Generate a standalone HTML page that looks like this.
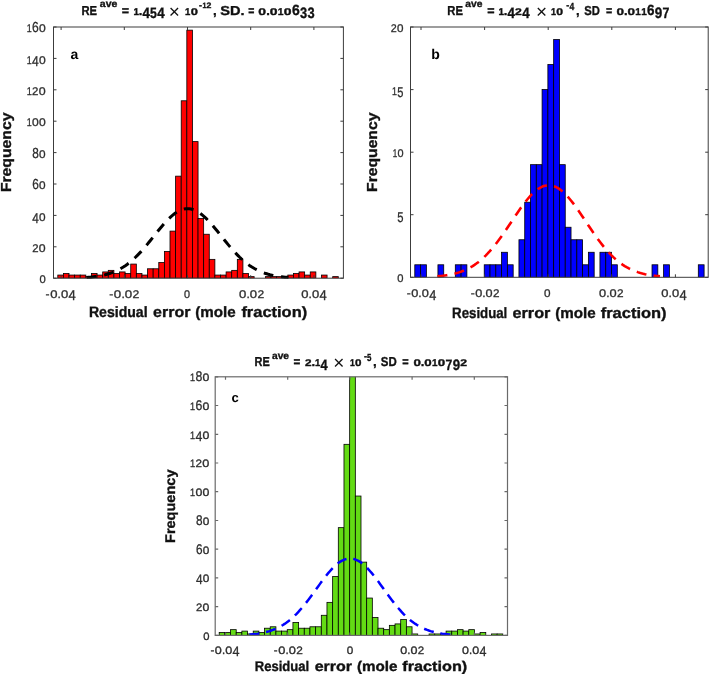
<!DOCTYPE html><html><head><meta charset="utf-8"><title>Residual error histograms</title>
<style>html,body{margin:0;padding:0;background:#fff}svg{display:block;text-rendering:geometricPrecision}text{font-family:'Liberation Sans', sans-serif}</style></head><body>
<svg width="709" height="675" viewBox="0 0 709 675">
<rect width="709" height="675" fill="#fff"/>
<clipPath id="ca"><rect x="53.5" y="27.0" width="289.9" height="251.2"/></clipPath>
<g fill="#ff0000" stroke="#000" stroke-width="0.8" clip-path="url(#ca)">
<rect x="57.80" y="275.06" width="5.61" height="3.14"/>
<rect x="63.41" y="273.49" width="5.61" height="4.71"/>
<rect x="69.02" y="275.06" width="5.61" height="3.14"/>
<rect x="74.63" y="275.06" width="5.61" height="3.14"/>
<rect x="80.24" y="275.06" width="5.61" height="3.14"/>
<rect x="85.85" y="276.63" width="5.61" height="1.57"/>
<rect x="91.46" y="273.49" width="5.61" height="4.71"/>
<rect x="97.07" y="275.06" width="5.61" height="3.14"/>
<rect x="102.68" y="271.92" width="5.61" height="6.28"/>
<rect x="108.29" y="270.35" width="5.61" height="7.85"/>
<rect x="113.90" y="273.49" width="5.61" height="4.71"/>
<rect x="119.51" y="271.92" width="5.61" height="6.28"/>
<rect x="125.12" y="273.49" width="5.61" height="4.71"/>
<rect x="130.73" y="264.07" width="5.61" height="14.13"/>
<rect x="136.34" y="273.49" width="5.61" height="4.71"/>
<rect x="141.95" y="275.06" width="5.61" height="3.14"/>
<rect x="147.56" y="268.78" width="5.61" height="9.42"/>
<rect x="153.17" y="268.78" width="5.61" height="9.42"/>
<rect x="158.78" y="262.50" width="5.61" height="15.70"/>
<rect x="164.39" y="251.51" width="5.61" height="26.69"/>
<rect x="170.00" y="231.10" width="5.61" height="47.10"/>
<rect x="175.61" y="176.15" width="5.61" height="102.05"/>
<rect x="181.22" y="100.79" width="5.61" height="177.41"/>
<rect x="186.83" y="30.14" width="5.61" height="248.06"/>
<rect x="192.44" y="141.61" width="5.61" height="136.59"/>
<rect x="198.05" y="218.54" width="5.61" height="59.66"/>
<rect x="203.66" y="234.24" width="5.61" height="43.96"/>
<rect x="209.27" y="259.36" width="5.61" height="18.84"/>
<rect x="214.88" y="275.06" width="5.61" height="3.14"/>
<rect x="220.49" y="275.06" width="5.61" height="3.14"/>
<rect x="226.10" y="271.92" width="5.61" height="6.28"/>
<rect x="231.71" y="270.35" width="5.61" height="7.85"/>
<rect x="237.32" y="259.36" width="5.61" height="18.84"/>
<rect x="242.93" y="273.49" width="5.61" height="4.71"/>
<rect x="248.54" y="276.63" width="5.61" height="1.57"/>
<rect x="265.37" y="276.63" width="5.61" height="1.57"/>
<rect x="270.98" y="276.63" width="5.61" height="1.57"/>
<rect x="276.59" y="276.63" width="5.61" height="1.57"/>
<rect x="282.20" y="276.63" width="5.61" height="1.57"/>
<rect x="287.81" y="275.06" width="5.61" height="3.14"/>
<rect x="293.42" y="273.49" width="5.61" height="4.71"/>
<rect x="299.03" y="271.92" width="5.61" height="6.28"/>
<rect x="304.64" y="275.06" width="5.61" height="3.14"/>
<rect x="310.25" y="271.92" width="5.61" height="6.28"/>
<rect x="321.47" y="275.06" width="5.61" height="3.14"/>
<rect x="332.69" y="276.63" width="5.61" height="1.57"/>
</g>
<path d="M86.71,277.43 L88.39,277.30 L90.07,277.16 L91.75,277.00 L93.44,276.82 L95.12,276.61 L96.80,276.38 L98.48,276.12 L100.16,275.83 L101.84,275.51 L103.52,275.14 L105.21,274.74 L106.89,274.30 L108.57,273.80 L110.25,273.26 L111.93,272.67 L113.61,272.02 L115.30,271.30 L116.98,270.53 L118.66,269.69 L120.34,268.79 L122.02,267.81 L123.70,266.76 L125.38,265.64 L127.07,264.44 L128.75,263.16 L130.43,261.80 L132.11,260.37 L133.79,258.86 L135.47,257.28 L137.15,255.62 L138.84,253.89 L140.52,252.10 L142.20,250.24 L143.88,248.32 L145.56,246.36 L147.24,244.35 L148.93,242.30 L150.61,240.22 L152.29,238.12 L153.97,236.02 L155.65,233.91 L157.33,231.81 L159.01,229.74 L160.70,227.70 L162.38,225.70 L164.06,223.76 L165.74,221.89 L167.42,220.11 L169.10,218.41 L170.78,216.82 L172.47,215.35 L174.15,214.00 L175.83,212.78 L177.51,211.71 L179.19,210.79 L180.87,210.03 L182.56,209.43 L184.24,209.00 L185.92,208.74 L187.60,208.65 L189.28,208.74 L190.96,209.00 L192.64,209.43 L194.33,210.03 L196.01,210.79 L197.69,211.71 L199.37,212.78 L201.05,214.00 L202.73,215.35 L204.41,216.82 L206.10,218.41 L207.78,220.11 L209.46,221.89 L211.14,223.76 L212.82,225.70 L214.50,227.70 L216.19,229.74 L217.87,231.81 L219.55,233.91 L221.23,236.02 L222.91,238.12 L224.59,240.22 L226.27,242.30 L227.96,244.35 L229.64,246.36 L231.32,248.32 L233.00,250.24 L234.68,252.10 L236.36,253.89 L238.05,255.62 L239.73,257.28 L241.41,258.86 L243.09,260.37 L244.77,261.80 L246.45,263.16 L248.13,264.44 L249.82,265.64 L251.50,266.76 L253.18,267.81 L254.86,268.79 L256.54,269.69 L258.22,270.53 L259.90,271.30 L261.59,272.02 L263.27,272.67 L264.95,273.26 L266.63,273.80 L268.31,274.30 L269.99,274.74 L271.68,275.14 L273.36,275.51 L275.04,275.83 L276.72,276.12 L278.40,276.38 L280.08,276.61 L281.76,276.82 L283.45,277.00 L285.13,277.16 L286.81,277.30 L288.49,277.43" fill="none" stroke="#000" stroke-width="3" stroke-dasharray="9.8 7.8" stroke-dashoffset="0"/>
<g stroke="#3c3c3c" stroke-width="1.0" fill="none">
<rect x="53.5" y="27.0" width="289.9" height="251.2"/>
<path d="M61.1,278.2v-3M61.1,27.0v3"/>
<path d="M124.3,278.2v-3M124.3,27.0v3"/>
<path d="M187.5,278.2v-3M187.5,27.0v3"/>
<path d="M250.7,278.2v-3M250.7,27.0v3"/>
<path d="M313.9,278.2v-3M313.9,27.0v3"/>
<path d="M53.5,278.2h3M343.4,278.2h-3"/>
<path d="M53.5,246.8h3M343.4,246.8h-3"/>
<path d="M53.5,215.4h3M343.4,215.4h-3"/>
<path d="M53.5,184.0h3M343.4,184.0h-3"/>
<path d="M53.5,152.6h3M343.4,152.6h-3"/>
<path d="M53.5,121.2h3M343.4,121.2h-3"/>
<path d="M53.5,89.8h3M343.4,89.8h-3"/>
<path d="M53.5,58.4h3M343.4,58.4h-3"/>
<path d="M53.5,27.0h3M343.4,27.0h-3"/>
</g>
<text x="81.4" y="15.0" font-size="13" font-weight="bold" stroke="#111" stroke-width="0.35" textLength="15.6" lengthAdjust="spacingAndGlyphs" fill="#111">RE</text>
<text x="99.8" y="7.4" font-size="10" font-weight="bold" stroke="#111" stroke-width="0.35" textLength="17.5" lengthAdjust="spacingAndGlyphs" fill="#111">ave</text>
<text x="121.8" y="15.0" font-size="13" font-weight="bold" stroke="#111" stroke-width="0.35" textLength="7.3" lengthAdjust="spacingAndGlyphs" fill="#111">=</text>
<text font-weight="bold" stroke="#111" stroke-width="0.35" fill="#111"><tspan x="133.41" y="15.0" font-size="9.78" textLength="5.48" lengthAdjust="spacingAndGlyphs">1</tspan><tspan x="138.83" y="15.0" font-size="13">.</tspan><tspan x="142.41" y="18.4" font-size="15.08" textLength="7.41" lengthAdjust="spacingAndGlyphs">4</tspan><tspan x="150.12" y="18.4" font-size="15.08" textLength="6.82" lengthAdjust="spacingAndGlyphs">5</tspan><tspan x="157.23" y="18.4" font-size="15.08" textLength="7.41" lengthAdjust="spacingAndGlyphs">4</tspan></text>
<text x="174.4" y="17.5" font-size="19" text-anchor="middle" fill="#111">×</text>
<text font-weight="bold" stroke="#111" stroke-width="0.35" fill="#111"><tspan x="185.11" y="15.0" font-size="9.78" textLength="5.31" lengthAdjust="spacingAndGlyphs">1</tspan><tspan x="190.68" y="15.0" font-size="9.78" textLength="7.17" lengthAdjust="spacingAndGlyphs">0</tspan></text>
<text font-weight="bold" stroke="#111" stroke-width="0.35" fill="#111"><tspan x="199.12" y="7.7" font-size="9">-</tspan><tspan x="202.52" y="7.7" font-size="7.82" textLength="3.92" lengthAdjust="spacingAndGlyphs">1</tspan><tspan x="206.63" y="7.7" font-size="7.82" textLength="4.87" lengthAdjust="spacingAndGlyphs">2</tspan></text>
<text x="212.9" y="15.0" font-size="13" font-weight="bold" stroke="#111" stroke-width="0.35" textLength="3.7" lengthAdjust="spacingAndGlyphs" fill="#111">,</text>
<text x="220.2" y="15.0" font-size="13" font-weight="bold" stroke="#111" stroke-width="0.35" textLength="24.3" lengthAdjust="spacingAndGlyphs" fill="#111">SD.</text>
<text x="248.3" y="15.0" font-size="13" font-weight="bold" stroke="#111" stroke-width="0.35" textLength="6.1" lengthAdjust="spacingAndGlyphs" fill="#111">=</text>
<text font-weight="bold" stroke="#111" stroke-width="0.35" fill="#111"><tspan x="258.36" y="15.0" font-size="9.78" textLength="7.75" lengthAdjust="spacingAndGlyphs">0</tspan><tspan x="266.16" y="15.0" font-size="13">.</tspan><tspan x="269.82" y="15.0" font-size="9.78" textLength="7.75" lengthAdjust="spacingAndGlyphs">0</tspan><tspan x="277.85" y="15.0" font-size="9.78" textLength="5.73" lengthAdjust="spacingAndGlyphs">1</tspan><tspan x="283.87" y="15.0" font-size="9.78" textLength="7.75" lengthAdjust="spacingAndGlyphs">0</tspan><tspan x="291.94" y="15.0" font-size="14.80" textLength="7.75" lengthAdjust="spacingAndGlyphs">6</tspan><tspan x="300.00" y="18.4" font-size="15.08" textLength="7.13" lengthAdjust="spacingAndGlyphs">3</tspan><tspan x="307.42" y="18.4" font-size="15.08" textLength="7.13" lengthAdjust="spacingAndGlyphs">3</tspan></text>
<text x="70.5" y="58.7" font-size="14" font-weight="bold" fill="#000">a</text>
<text x="88.9" y="317.2" font-size="15" font-weight="bold" stroke="#111" stroke-width="0.35" textLength="58.7" lengthAdjust="spacingAndGlyphs" fill="#111">Residual</text>
<text x="153.1" y="317.2" font-size="15" font-weight="bold" stroke="#111" stroke-width="0.35" textLength="37.3" lengthAdjust="spacingAndGlyphs" fill="#111">error</text>
<text x="195.3" y="317.2" font-size="15" font-weight="bold" stroke="#111" stroke-width="0.35" textLength="40.5" lengthAdjust="spacingAndGlyphs" fill="#111">(mole</text>
<text x="241.4" y="317.2" font-size="15" font-weight="bold" stroke="#111" stroke-width="0.35" textLength="65.8" lengthAdjust="spacingAndGlyphs" fill="#111">fraction)</text>
<text transform="translate(11.1,192.1) rotate(-90)" x="0" y="0" font-size="14.5" font-weight="bold" stroke="#111" stroke-width="0.35" textLength="79.5" lengthAdjust="spacingAndGlyphs" fill="#111">Frequency</text>
<text stroke="#2e2e2e" stroke-width="0.3" fill="#2e2e2e"><tspan x="45.60" y="297.7" font-size="12">-</tspan><tspan x="50.25" y="297.7" font-size="11.17" textLength="7.27" lengthAdjust="spacingAndGlyphs">0</tspan><tspan x="57.59" y="297.7" font-size="12">.</tspan><tspan x="61.00" y="297.7" font-size="11.17" textLength="7.27" lengthAdjust="spacingAndGlyphs">0</tspan><tspan x="68.58" y="300.0" font-size="14.25" textLength="7.27" lengthAdjust="spacingAndGlyphs">4</tspan></text>
<text stroke="#2e2e2e" stroke-width="0.3" fill="#2e2e2e"><tspan x="109.15" y="297.7" font-size="12">-</tspan><tspan x="113.85" y="297.7" font-size="11.17" textLength="7.42" lengthAdjust="spacingAndGlyphs">0</tspan><tspan x="121.38" y="297.7" font-size="12">.</tspan><tspan x="124.82" y="297.7" font-size="11.17" textLength="7.42" lengthAdjust="spacingAndGlyphs">0</tspan><tspan x="132.54" y="297.7" font-size="11.17" textLength="6.82" lengthAdjust="spacingAndGlyphs">2</tspan></text>
<text stroke="#2e2e2e" stroke-width="0.3" fill="#2e2e2e"><tspan x="184.03" y="297.7" font-size="11.17" textLength="6.05" lengthAdjust="spacingAndGlyphs">0</tspan></text>
<text stroke="#2e2e2e" stroke-width="0.3" fill="#2e2e2e"><tspan x="239.05" y="297.7" font-size="11.17" textLength="7.30" lengthAdjust="spacingAndGlyphs">0</tspan><tspan x="246.43" y="297.7" font-size="12">.</tspan><tspan x="249.85" y="297.7" font-size="11.17" textLength="7.30" lengthAdjust="spacingAndGlyphs">0</tspan><tspan x="257.44" y="297.7" font-size="11.17" textLength="6.72" lengthAdjust="spacingAndGlyphs">2</tspan></text>
<text stroke="#2e2e2e" stroke-width="0.3" fill="#2e2e2e"><tspan x="301.25" y="297.7" font-size="11.17" textLength="7.24" lengthAdjust="spacingAndGlyphs">0</tspan><tspan x="308.56" y="297.7" font-size="12">.</tspan><tspan x="311.96" y="297.7" font-size="11.17" textLength="7.24" lengthAdjust="spacingAndGlyphs">0</tspan><tspan x="319.51" y="300.0" font-size="14.25" textLength="7.24" lengthAdjust="spacingAndGlyphs">4</tspan></text>
<text stroke="#2e2e2e" stroke-width="0.3" fill="#2e2e2e"><tspan x="39.43" y="283.3" font-size="11.17" textLength="6.24" lengthAdjust="spacingAndGlyphs">0</tspan></text>
<text stroke="#2e2e2e" stroke-width="0.3" fill="#2e2e2e"><tspan x="32.23" y="251.9" font-size="11.17" textLength="6.30" lengthAdjust="spacingAndGlyphs">2</tspan><tspan x="38.81" y="251.9" font-size="11.17" textLength="6.85" lengthAdjust="spacingAndGlyphs">0</tspan></text>
<text stroke="#2e2e2e" stroke-width="0.3" fill="#2e2e2e"><tspan x="32.24" y="222.8" font-size="14.25" textLength="6.58" lengthAdjust="spacingAndGlyphs">4</tspan><tspan x="39.09" y="220.5" font-size="11.17" textLength="6.58" lengthAdjust="spacingAndGlyphs">0</tspan></text>
<text stroke="#2e2e2e" stroke-width="0.3" fill="#2e2e2e"><tspan x="32.24" y="189.1" font-size="14.53" textLength="6.58" lengthAdjust="spacingAndGlyphs">6</tspan><tspan x="39.09" y="189.1" font-size="11.17" textLength="6.58" lengthAdjust="spacingAndGlyphs">0</tspan></text>
<text stroke="#2e2e2e" stroke-width="0.3" fill="#2e2e2e"><tspan x="32.24" y="157.7" font-size="14.53" textLength="6.58" lengthAdjust="spacingAndGlyphs">8</tspan><tspan x="39.09" y="157.7" font-size="11.17" textLength="6.58" lengthAdjust="spacingAndGlyphs">0</tspan></text>
<text stroke="#2e2e2e" stroke-width="0.3" fill="#2e2e2e"><tspan x="26.70" y="126.3" font-size="11.17" textLength="4.98" lengthAdjust="spacingAndGlyphs">1</tspan><tspan x="31.93" y="126.3" font-size="11.17" textLength="6.73" lengthAdjust="spacingAndGlyphs">0</tspan><tspan x="38.93" y="126.3" font-size="11.17" textLength="6.73" lengthAdjust="spacingAndGlyphs">0</tspan></text>
<text stroke="#2e2e2e" stroke-width="0.3" fill="#2e2e2e"><tspan x="26.71" y="94.9" font-size="11.17" textLength="5.13" lengthAdjust="spacingAndGlyphs">1</tspan><tspan x="32.07" y="94.9" font-size="11.17" textLength="6.37" lengthAdjust="spacingAndGlyphs">2</tspan><tspan x="38.73" y="94.9" font-size="11.17" textLength="6.93" lengthAdjust="spacingAndGlyphs">0</tspan></text>
<text stroke="#2e2e2e" stroke-width="0.3" fill="#2e2e2e"><tspan x="26.70" y="63.5" font-size="11.17" textLength="4.98" lengthAdjust="spacingAndGlyphs">1</tspan><tspan x="31.93" y="65.8" font-size="14.25" textLength="6.73" lengthAdjust="spacingAndGlyphs">4</tspan><tspan x="38.93" y="63.5" font-size="11.17" textLength="6.73" lengthAdjust="spacingAndGlyphs">0</tspan></text>
<text stroke="#2e2e2e" stroke-width="0.3" fill="#2e2e2e"><tspan x="26.70" y="32.1" font-size="11.17" textLength="4.98" lengthAdjust="spacingAndGlyphs">1</tspan><tspan x="31.93" y="32.1" font-size="14.53" textLength="6.73" lengthAdjust="spacingAndGlyphs">6</tspan><tspan x="38.93" y="32.1" font-size="11.17" textLength="6.73" lengthAdjust="spacingAndGlyphs">0</tspan></text>
<clipPath id="cb"><rect x="410.5" y="27.0" width="297.7" height="250.3"/></clipPath>
<g fill="#0000ff" stroke="#000" stroke-width="0.8" clip-path="url(#cb)">
<rect x="414.80" y="264.79" width="5.79" height="12.52"/>
<rect x="420.59" y="264.79" width="5.79" height="12.52"/>
<rect x="437.94" y="264.79" width="5.79" height="12.52"/>
<rect x="455.30" y="264.79" width="5.79" height="12.52"/>
<rect x="461.09" y="264.79" width="5.79" height="12.52"/>
<rect x="484.23" y="264.79" width="5.79" height="12.52"/>
<rect x="490.02" y="264.79" width="5.79" height="12.52"/>
<rect x="495.80" y="264.79" width="5.79" height="12.52"/>
<rect x="501.59" y="252.27" width="5.79" height="25.03"/>
<rect x="507.38" y="264.79" width="5.79" height="12.52"/>
<rect x="518.95" y="239.75" width="5.79" height="37.55"/>
<rect x="524.73" y="202.21" width="5.79" height="75.09"/>
<rect x="530.52" y="164.67" width="5.79" height="112.64"/>
<rect x="536.31" y="164.67" width="5.79" height="112.64"/>
<rect x="542.09" y="89.57" width="5.79" height="187.73"/>
<rect x="547.88" y="64.55" width="5.79" height="212.75"/>
<rect x="553.66" y="39.51" width="5.79" height="237.79"/>
<rect x="559.45" y="164.67" width="5.79" height="112.64"/>
<rect x="565.24" y="227.24" width="5.79" height="50.06"/>
<rect x="571.02" y="239.75" width="5.79" height="37.55"/>
<rect x="576.81" y="239.75" width="5.79" height="37.55"/>
<rect x="582.59" y="264.79" width="5.79" height="12.52"/>
<rect x="588.38" y="252.27" width="5.79" height="25.03"/>
<rect x="599.95" y="252.27" width="5.79" height="25.03"/>
<rect x="605.74" y="252.27" width="5.79" height="25.03"/>
<rect x="611.52" y="264.79" width="5.79" height="12.52"/>
<rect x="652.03" y="264.79" width="5.79" height="12.52"/>
<rect x="663.60" y="264.79" width="5.79" height="12.52"/>
<rect x="698.31" y="264.79" width="5.79" height="12.52"/>
</g>
<path d="M437.43,276.28 L439.28,276.11 L441.14,275.93 L442.99,275.72 L444.85,275.47 L446.70,275.20 L448.56,274.90 L450.41,274.55 L452.27,274.17 L454.12,273.74 L455.98,273.26 L457.83,272.73 L459.68,272.14 L461.54,271.49 L463.39,270.77 L465.25,269.98 L467.10,269.12 L468.96,268.18 L470.81,267.16 L472.67,266.05 L474.52,264.85 L476.37,263.56 L478.23,262.17 L480.08,260.68 L481.94,259.10 L483.79,257.41 L485.65,255.61 L487.50,253.72 L489.36,251.72 L491.21,249.63 L493.07,247.44 L494.92,245.15 L496.77,242.78 L498.63,240.32 L500.48,237.79 L502.34,235.19 L504.19,232.53 L506.05,229.82 L507.90,227.07 L509.76,224.30 L511.61,221.51 L513.46,218.72 L515.32,215.95 L517.17,213.20 L519.03,210.50 L520.88,207.87 L522.74,205.30 L524.59,202.83 L526.45,200.47 L528.30,198.23 L530.16,196.12 L532.01,194.17 L533.86,192.39 L535.72,190.78 L537.57,189.36 L539.43,188.14 L541.28,187.14 L543.14,186.34 L544.99,185.77 L546.85,185.43 L548.70,185.31 L550.55,185.43 L552.41,185.77 L554.26,186.34 L556.12,187.14 L557.97,188.14 L559.83,189.36 L561.68,190.78 L563.54,192.39 L565.39,194.17 L567.25,196.12 L569.10,198.23 L570.95,200.47 L572.81,202.83 L574.66,205.30 L576.52,207.87 L578.37,210.50 L580.23,213.20 L582.08,215.95 L583.94,218.72 L585.79,221.51 L587.64,224.30 L589.50,227.07 L591.35,229.82 L593.21,232.53 L595.06,235.19 L596.92,237.79 L598.77,240.32 L600.63,242.78 L602.48,245.15 L604.34,247.44 L606.19,249.63 L608.04,251.72 L609.90,253.72 L611.75,255.61 L613.61,257.41 L615.46,259.10 L617.32,260.68 L619.17,262.17 L621.03,263.56 L622.88,264.85 L624.73,266.05 L626.59,267.16 L628.44,268.18 L630.30,269.12 L632.15,269.98 L634.01,270.77 L635.86,271.49 L637.72,272.14 L639.57,272.73 L641.43,273.26 L643.28,273.74 L645.13,274.17 L646.99,274.55 L648.84,274.90 L650.70,275.20 L652.55,275.47 L654.41,275.72 L656.26,275.93 L658.12,276.11 L659.97,276.28" fill="none" stroke="#ff0000" stroke-width="2.6" stroke-dasharray="10 7.3" stroke-dashoffset="0"/>
<g stroke="#3c3c3c" stroke-width="1.0" fill="none">
<rect x="410.5" y="27.0" width="297.7" height="250.3"/>
<path d="M421.0,277.3v-3M421.0,27.0v3"/>
<path d="M484.6,277.3v-3M484.6,27.0v3"/>
<path d="M548.2,277.3v-3M548.2,27.0v3"/>
<path d="M611.8,277.3v-3M611.8,27.0v3"/>
<path d="M675.4,277.3v-3M675.4,27.0v3"/>
<path d="M410.5,277.3h3M708.2,277.3h-3"/>
<path d="M410.5,214.7h3M708.2,214.7h-3"/>
<path d="M410.5,152.2h3M708.2,152.2h-3"/>
<path d="M410.5,89.6h3M708.2,89.6h-3"/>
<path d="M410.5,27.0h3M708.2,27.0h-3"/>
</g>
<text x="447.3" y="15.0" font-size="13" font-weight="bold" stroke="#111" stroke-width="0.35" textLength="15.6" lengthAdjust="spacingAndGlyphs" fill="#111">RE</text>
<text x="465.3" y="7.4" font-size="10" font-weight="bold" stroke="#111" stroke-width="0.35" textLength="17.1" lengthAdjust="spacingAndGlyphs" fill="#111">ave</text>
<text x="487.3" y="15.0" font-size="13" font-weight="bold" stroke="#111" stroke-width="0.35" textLength="7.3" lengthAdjust="spacingAndGlyphs" fill="#111">=</text>
<text font-weight="bold" stroke="#111" stroke-width="0.35" fill="#111"><tspan x="498.41" y="15.0" font-size="9.78" textLength="5.48" lengthAdjust="spacingAndGlyphs">1</tspan><tspan x="503.83" y="15.0" font-size="13">.</tspan><tspan x="507.41" y="18.4" font-size="15.08" textLength="7.41" lengthAdjust="spacingAndGlyphs">4</tspan><tspan x="515.12" y="15.0" font-size="9.78" textLength="6.82" lengthAdjust="spacingAndGlyphs">2</tspan><tspan x="522.23" y="18.4" font-size="15.08" textLength="7.41" lengthAdjust="spacingAndGlyphs">4</tspan></text>
<text x="541.6" y="17.5" font-size="19" text-anchor="middle" fill="#111">×</text>
<text font-weight="bold" stroke="#111" stroke-width="0.35" fill="#111"><tspan x="551.00" y="15.0" font-size="9.78" textLength="5.02" lengthAdjust="spacingAndGlyphs">1</tspan><tspan x="556.27" y="15.0" font-size="9.78" textLength="6.79" lengthAdjust="spacingAndGlyphs">0</tspan></text>
<text font-weight="bold" stroke="#111" stroke-width="0.35" fill="#111"><tspan x="566.14" y="7.7" font-size="9">-</tspan><tspan x="569.38" y="9.5" font-size="10.34" textLength="4.77" lengthAdjust="spacingAndGlyphs">4</tspan></text>
<text x="576.1" y="15.0" font-size="13" font-weight="bold" stroke="#111" stroke-width="0.35" textLength="3.6" lengthAdjust="spacingAndGlyphs" fill="#111">,</text>
<text x="584.3" y="15.0" font-size="13" font-weight="bold" stroke="#111" stroke-width="0.35" textLength="15.6" lengthAdjust="spacingAndGlyphs" fill="#111">SD</text>
<text x="606.0" y="15.0" font-size="13" font-weight="bold" stroke="#111" stroke-width="0.35" textLength="6.2" lengthAdjust="spacingAndGlyphs" fill="#111">=</text>
<text font-weight="bold" stroke="#111" stroke-width="0.35" fill="#111"><tspan x="616.56" y="15.0" font-size="9.78" textLength="7.49" lengthAdjust="spacingAndGlyphs">0</tspan><tspan x="624.03" y="15.0" font-size="13">.</tspan><tspan x="627.63" y="15.0" font-size="9.78" textLength="7.49" lengthAdjust="spacingAndGlyphs">0</tspan><tspan x="635.39" y="15.0" font-size="9.78" textLength="5.54" lengthAdjust="spacingAndGlyphs">1</tspan><tspan x="641.17" y="15.0" font-size="9.78" textLength="5.54" lengthAdjust="spacingAndGlyphs">1</tspan><tspan x="646.98" y="15.0" font-size="14.80" textLength="7.49" lengthAdjust="spacingAndGlyphs">6</tspan><tspan x="654.78" y="18.4" font-size="15.08" textLength="7.49" lengthAdjust="spacingAndGlyphs">9</tspan><tspan x="662.57" y="18.4" font-size="15.08" textLength="6.89" lengthAdjust="spacingAndGlyphs">7</tspan></text>
<text x="431.2" y="59.0" font-size="14" font-weight="bold" fill="#000">b</text>
<text x="452.1" y="317.5" font-size="15" font-weight="bold" stroke="#111" stroke-width="0.35" textLength="55.2" lengthAdjust="spacingAndGlyphs" fill="#111">Residual</text>
<text x="512.5" y="317.5" font-size="15" font-weight="bold" stroke="#111" stroke-width="0.35" textLength="37.9" lengthAdjust="spacingAndGlyphs" fill="#111">error</text>
<text x="555.3" y="317.5" font-size="15" font-weight="bold" stroke="#111" stroke-width="0.35" textLength="40.5" lengthAdjust="spacingAndGlyphs" fill="#111">(mole</text>
<text x="600.7" y="317.5" font-size="15" font-weight="bold" stroke="#111" stroke-width="0.35" textLength="65.9" lengthAdjust="spacingAndGlyphs" fill="#111">fraction)</text>
<text transform="translate(377.2,191.9) rotate(-90)" x="0" y="0" font-size="14.5" font-weight="bold" stroke="#111" stroke-width="0.35" textLength="79.3" lengthAdjust="spacingAndGlyphs" fill="#111">Frequency</text>
<text stroke="#2e2e2e" stroke-width="0.3" fill="#2e2e2e"><tspan x="406.64" y="297.4" font-size="12">-</tspan><tspan x="411.23" y="297.4" font-size="11.17" textLength="7.11" lengthAdjust="spacingAndGlyphs">0</tspan><tspan x="418.37" y="297.4" font-size="12">.</tspan><tspan x="421.74" y="297.4" font-size="11.17" textLength="7.11" lengthAdjust="spacingAndGlyphs">0</tspan><tspan x="429.15" y="299.7" font-size="14.25" textLength="7.11" lengthAdjust="spacingAndGlyphs">4</tspan></text>
<text stroke="#2e2e2e" stroke-width="0.3" fill="#2e2e2e"><tspan x="470.63" y="297.4" font-size="12">-</tspan><tspan x="475.20" y="297.4" font-size="11.17" textLength="7.06" lengthAdjust="spacingAndGlyphs">0</tspan><tspan x="482.28" y="297.4" font-size="12">.</tspan><tspan x="485.63" y="297.4" font-size="11.17" textLength="7.06" lengthAdjust="spacingAndGlyphs">0</tspan><tspan x="492.97" y="297.4" font-size="11.17" textLength="6.49" lengthAdjust="spacingAndGlyphs">2</tspan></text>
<text stroke="#2e2e2e" stroke-width="0.3" fill="#2e2e2e"><tspan x="543.94" y="297.4" font-size="11.17" textLength="6.53" lengthAdjust="spacingAndGlyphs">0</tspan></text>
<text stroke="#2e2e2e" stroke-width="0.3" fill="#2e2e2e"><tspan x="599.05" y="297.4" font-size="11.17" textLength="7.13" lengthAdjust="spacingAndGlyphs">0</tspan><tspan x="606.22" y="297.4" font-size="12">.</tspan><tspan x="609.59" y="297.4" font-size="11.17" textLength="7.13" lengthAdjust="spacingAndGlyphs">0</tspan><tspan x="617.01" y="297.4" font-size="11.17" textLength="6.56" lengthAdjust="spacingAndGlyphs">2</tspan></text>
<text stroke="#2e2e2e" stroke-width="0.3" fill="#2e2e2e"><tspan x="661.35" y="297.4" font-size="11.17" textLength="7.21" lengthAdjust="spacingAndGlyphs">0</tspan><tspan x="668.62" y="297.4" font-size="12">.</tspan><tspan x="672.02" y="297.4" font-size="11.17" textLength="7.21" lengthAdjust="spacingAndGlyphs">0</tspan><tspan x="679.54" y="299.7" font-size="14.25" textLength="7.21" lengthAdjust="spacingAndGlyphs">4</tspan></text>
<text stroke="#2e2e2e" stroke-width="0.3" fill="#2e2e2e"><tspan x="397.23" y="282.4" font-size="11.17" textLength="6.24" lengthAdjust="spacingAndGlyphs">0</tspan></text>
<text stroke="#2e2e2e" stroke-width="0.3" fill="#2e2e2e"><tspan x="397.23" y="222.1" font-size="14.25" textLength="6.24" lengthAdjust="spacingAndGlyphs">5</tspan></text>
<text stroke="#2e2e2e" stroke-width="0.3" fill="#2e2e2e"><tspan x="392.69" y="157.2" font-size="11.17" textLength="4.49" lengthAdjust="spacingAndGlyphs">1</tspan><tspan x="397.40" y="157.2" font-size="11.17" textLength="6.07" lengthAdjust="spacingAndGlyphs">0</tspan></text>
<text stroke="#2e2e2e" stroke-width="0.3" fill="#2e2e2e"><tspan x="392.10" y="94.7" font-size="11.17" textLength="4.96" lengthAdjust="spacingAndGlyphs">1</tspan><tspan x="397.30" y="97.0" font-size="14.25" textLength="6.17" lengthAdjust="spacingAndGlyphs">5</tspan></text>
<text stroke="#2e2e2e" stroke-width="0.3" fill="#2e2e2e"><tspan x="390.72" y="32.1" font-size="11.17" textLength="5.98" lengthAdjust="spacingAndGlyphs">2</tspan><tspan x="396.96" y="32.1" font-size="11.17" textLength="6.50" lengthAdjust="spacingAndGlyphs">0</tspan></text>
<clipPath id="cc"><rect x="215.2" y="376.8" width="292.3" height="258.6"/></clipPath>
<g fill="#63db14" stroke="#000" stroke-width="0.8" clip-path="url(#cc)">
<rect x="219.20" y="632.53" width="5.67" height="2.87"/>
<rect x="224.87" y="632.53" width="5.67" height="2.87"/>
<rect x="230.54" y="629.65" width="5.67" height="5.75"/>
<rect x="236.22" y="632.53" width="5.67" height="2.87"/>
<rect x="241.89" y="631.09" width="5.67" height="4.31"/>
<rect x="247.56" y="633.96" width="5.67" height="1.44"/>
<rect x="253.23" y="631.09" width="5.67" height="4.31"/>
<rect x="258.90" y="632.53" width="5.67" height="2.87"/>
<rect x="264.58" y="628.22" width="5.67" height="7.18"/>
<rect x="270.25" y="626.78" width="5.67" height="8.62"/>
<rect x="275.92" y="631.09" width="5.67" height="4.31"/>
<rect x="281.59" y="631.09" width="5.67" height="4.31"/>
<rect x="287.26" y="629.65" width="5.67" height="5.75"/>
<rect x="292.94" y="622.47" width="5.67" height="12.93"/>
<rect x="298.61" y="628.22" width="5.67" height="7.18"/>
<rect x="304.28" y="628.22" width="5.67" height="7.18"/>
<rect x="309.95" y="626.78" width="5.67" height="8.62"/>
<rect x="315.62" y="626.78" width="5.67" height="8.62"/>
<rect x="321.30" y="615.29" width="5.67" height="20.11"/>
<rect x="326.97" y="602.36" width="5.67" height="33.04"/>
<rect x="332.64" y="576.50" width="5.67" height="58.90"/>
<rect x="338.31" y="527.65" width="5.67" height="107.75"/>
<rect x="343.98" y="444.32" width="5.67" height="191.08"/>
<rect x="349.66" y="371.05" width="5.67" height="264.35"/>
<rect x="355.33" y="496.04" width="5.67" height="139.36"/>
<rect x="361.00" y="562.13" width="5.67" height="73.27"/>
<rect x="366.67" y="598.05" width="5.67" height="37.35"/>
<rect x="372.34" y="617.44" width="5.67" height="17.96"/>
<rect x="378.02" y="628.22" width="5.67" height="7.18"/>
<rect x="383.69" y="629.65" width="5.67" height="5.75"/>
<rect x="389.36" y="625.34" width="5.67" height="10.06"/>
<rect x="395.03" y="623.91" width="5.67" height="11.49"/>
<rect x="400.70" y="619.60" width="5.67" height="15.80"/>
<rect x="406.38" y="626.78" width="5.67" height="8.62"/>
<rect x="412.05" y="633.96" width="5.67" height="1.44"/>
<rect x="429.06" y="633.96" width="5.67" height="1.44"/>
<rect x="434.74" y="633.96" width="5.67" height="1.44"/>
<rect x="440.41" y="633.96" width="5.67" height="1.44"/>
<rect x="446.08" y="631.09" width="5.67" height="4.31"/>
<rect x="451.75" y="631.09" width="5.67" height="4.31"/>
<rect x="457.42" y="629.65" width="5.67" height="5.75"/>
<rect x="463.10" y="631.09" width="5.67" height="4.31"/>
<rect x="468.77" y="629.65" width="5.67" height="5.75"/>
<rect x="474.44" y="633.96" width="5.67" height="1.44"/>
<rect x="480.11" y="632.53" width="5.67" height="2.87"/>
<rect x="491.46" y="633.96" width="5.67" height="1.44"/>
<rect x="497.13" y="633.96" width="5.67" height="1.44"/>
</g>
<path d="M249.38,634.55 L251.06,634.41 L252.73,634.25 L254.41,634.08 L256.09,633.87 L257.76,633.65 L259.44,633.39 L261.12,633.10 L262.80,632.78 L264.47,632.42 L266.15,632.02 L267.83,631.58 L269.50,631.09 L271.18,630.54 L272.86,629.94 L274.54,629.28 L276.21,628.57 L277.89,627.78 L279.57,626.93 L281.24,626.00 L282.92,625.00 L284.60,623.92 L286.27,622.76 L287.95,621.52 L289.63,620.19 L291.31,618.78 L292.98,617.28 L294.66,615.70 L296.34,614.03 L298.01,612.28 L299.69,610.45 L301.37,608.54 L303.04,606.55 L304.72,604.50 L306.40,602.38 L308.07,600.21 L309.75,597.99 L311.43,595.72 L313.11,593.43 L314.78,591.11 L316.46,588.78 L318.14,586.45 L319.81,584.14 L321.49,581.84 L323.17,579.59 L324.85,577.38 L326.52,575.24 L328.20,573.17 L329.88,571.20 L331.55,569.33 L333.23,567.57 L334.91,565.94 L336.58,564.45 L338.26,563.10 L339.94,561.92 L341.62,560.90 L343.29,560.06 L344.97,559.40 L346.65,558.92 L348.32,558.63 L350.00,558.54 L351.68,558.63 L353.35,558.92 L355.03,559.40 L356.71,560.06 L358.38,560.90 L360.06,561.92 L361.74,563.10 L363.42,564.45 L365.09,565.94 L366.77,567.57 L368.45,569.33 L370.12,571.20 L371.80,573.17 L373.48,575.24 L375.15,577.38 L376.83,579.59 L378.51,581.84 L380.19,584.14 L381.86,586.45 L383.54,588.78 L385.22,591.11 L386.89,593.43 L388.57,595.72 L390.25,597.99 L391.93,600.21 L393.60,602.38 L395.28,604.50 L396.96,606.55 L398.63,608.54 L400.31,610.45 L401.99,612.28 L403.66,614.03 L405.34,615.70 L407.02,617.28 L408.69,618.78 L410.37,620.19 L412.05,621.52 L413.73,622.76 L415.40,623.92 L417.08,625.00 L418.76,626.00 L420.43,626.93 L422.11,627.78 L423.79,628.57 L425.47,629.28 L427.14,629.94 L428.82,630.54 L430.50,631.09 L432.17,631.58 L433.85,632.02 L435.53,632.42 L437.20,632.78 L438.88,633.10 L440.56,633.39 L442.24,633.65 L443.91,633.87 L445.59,634.08 L447.27,634.25 L448.94,634.41 L450.62,634.55" fill="none" stroke="#0000ff" stroke-width="2.5" stroke-dasharray="10.1 6.75" stroke-dashoffset="0"/>
<g stroke="#6a6a6a" stroke-width="1.2" fill="none">
<rect x="215.2" y="376.8" width="292.3" height="258.6"/>
<path d="M225.5,635.4v-3M225.5,376.8v3"/>
<path d="M287.7,635.4v-3M287.7,376.8v3"/>
<path d="M349.9,635.4v-3M349.9,376.8v3"/>
<path d="M412.1,635.4v-3M412.1,376.8v3"/>
<path d="M474.3,635.4v-3M474.3,376.8v3"/>
<path d="M215.2,635.4h3M507.5,635.4h-3"/>
<path d="M215.2,606.7h3M507.5,606.7h-3"/>
<path d="M215.2,577.9h3M507.5,577.9h-3"/>
<path d="M215.2,549.2h3M507.5,549.2h-3"/>
<path d="M215.2,520.5h3M507.5,520.5h-3"/>
<path d="M215.2,491.7h3M507.5,491.7h-3"/>
<path d="M215.2,463.0h3M507.5,463.0h-3"/>
<path d="M215.2,434.3h3M507.5,434.3h-3"/>
<path d="M215.2,405.5h3M507.5,405.5h-3"/>
<path d="M215.2,376.8h3M507.5,376.8h-3"/>
</g>
<text x="254.6" y="366.3" font-size="13" font-weight="bold" stroke="#111" stroke-width="0.35" textLength="15.2" lengthAdjust="spacingAndGlyphs" fill="#111">RE</text>
<text x="272.0" y="358.5" font-size="10" font-weight="bold" stroke="#111" stroke-width="0.35" textLength="17.0" lengthAdjust="spacingAndGlyphs" fill="#111">ave</text>
<text x="293.6" y="366.3" font-size="13" font-weight="bold" stroke="#111" stroke-width="0.35" textLength="6.8" lengthAdjust="spacingAndGlyphs" fill="#111">=</text>
<text font-weight="bold" stroke="#111" stroke-width="0.35" fill="#111"><tspan x="305.14" y="366.3" font-size="9.78" textLength="6.57" lengthAdjust="spacingAndGlyphs">2</tspan><tspan x="311.59" y="366.3" font-size="13">.</tspan><tspan x="315.07" y="366.3" font-size="9.78" textLength="5.28" lengthAdjust="spacingAndGlyphs">1</tspan><tspan x="320.61" y="369.7" font-size="15.08" textLength="7.14" lengthAdjust="spacingAndGlyphs">4</tspan></text>
<text x="338.9" y="368.8" font-size="19" text-anchor="middle" fill="#111">×</text>
<text font-weight="bold" stroke="#111" stroke-width="0.35" fill="#111"><tspan x="350.00" y="366.3" font-size="9.78" textLength="4.78" lengthAdjust="spacingAndGlyphs">1</tspan><tspan x="355.01" y="366.3" font-size="9.78" textLength="6.46" lengthAdjust="spacingAndGlyphs">0</tspan></text>
<text font-weight="bold" stroke="#111" stroke-width="0.35" fill="#111"><tspan x="363.89" y="359.0" font-size="9">-</tspan><tspan x="367.12" y="360.8" font-size="10.34" textLength="4.39" lengthAdjust="spacingAndGlyphs">5</tspan></text>
<text x="372.9" y="366.3" font-size="13" font-weight="bold" stroke="#111" stroke-width="0.35" textLength="3.7" lengthAdjust="spacingAndGlyphs" fill="#111">,</text>
<text x="380.8" y="366.3" font-size="13" font-weight="bold" stroke="#111" stroke-width="0.35" textLength="15.9" lengthAdjust="spacingAndGlyphs" fill="#111">SD</text>
<text x="402.2" y="366.3" font-size="13" font-weight="bold" stroke="#111" stroke-width="0.35" textLength="6.4" lengthAdjust="spacingAndGlyphs" fill="#111">=</text>
<text font-weight="bold" stroke="#111" stroke-width="0.35" fill="#111"><tspan x="413.40" y="366.3" font-size="9.78" textLength="7.41" lengthAdjust="spacingAndGlyphs">0</tspan><tspan x="420.79" y="366.3" font-size="13">.</tspan><tspan x="424.37" y="366.3" font-size="9.78" textLength="7.41" lengthAdjust="spacingAndGlyphs">0</tspan><tspan x="432.05" y="366.3" font-size="9.78" textLength="5.49" lengthAdjust="spacingAndGlyphs">1</tspan><tspan x="437.80" y="366.3" font-size="9.78" textLength="7.41" lengthAdjust="spacingAndGlyphs">0</tspan><tspan x="445.51" y="369.7" font-size="15.08" textLength="6.82" lengthAdjust="spacingAndGlyphs">7</tspan><tspan x="452.63" y="369.7" font-size="15.08" textLength="7.41" lengthAdjust="spacingAndGlyphs">9</tspan><tspan x="460.34" y="366.3" font-size="9.78" textLength="6.82" lengthAdjust="spacingAndGlyphs">2</tspan></text>
<text x="231.4" y="401.7" font-size="13" font-weight="bold" fill="#000">c</text>
<text x="254.7" y="671.1" font-size="14" font-weight="bold" stroke="#111" stroke-width="0.35" textLength="54.5" lengthAdjust="spacingAndGlyphs" fill="#111">Residual</text>
<text x="314.7" y="671.1" font-size="14" font-weight="bold" stroke="#111" stroke-width="0.35" textLength="37.4" lengthAdjust="spacingAndGlyphs" fill="#111">error</text>
<text x="356.9" y="671.1" font-size="14" font-weight="bold" stroke="#111" stroke-width="0.35" textLength="40.6" lengthAdjust="spacingAndGlyphs" fill="#111">(mole</text>
<text x="402.3" y="671.1" font-size="14" font-weight="bold" stroke="#111" stroke-width="0.35" textLength="64.9" lengthAdjust="spacingAndGlyphs" fill="#111">fraction)</text>
<text transform="translate(174.8,543.0) rotate(-90)" x="0" y="0" font-size="14" font-weight="bold" stroke="#111" stroke-width="0.35" textLength="73.5" lengthAdjust="spacingAndGlyphs" fill="#111">Frequency</text>
<text stroke="#2e2e2e" stroke-width="0.3" fill="#2e2e2e"><tspan x="210.40" y="654.0" font-size="11.5">-</tspan><tspan x="214.87" y="654.0" font-size="10.75" textLength="7.01" lengthAdjust="spacingAndGlyphs">0</tspan><tspan x="221.96" y="654.0" font-size="11.5">.</tspan><tspan x="225.24" y="654.0" font-size="10.75" textLength="7.01" lengthAdjust="spacingAndGlyphs">0</tspan><tspan x="232.54" y="656.1" font-size="13.69" textLength="7.01" lengthAdjust="spacingAndGlyphs">4</tspan></text>
<text stroke="#2e2e2e" stroke-width="0.3" fill="#2e2e2e"><tspan x="273.64" y="654.0" font-size="11.5">-</tspan><tspan x="278.17" y="654.0" font-size="10.75" textLength="7.15" lengthAdjust="spacingAndGlyphs">0</tspan><tspan x="285.43" y="654.0" font-size="11.5">.</tspan><tspan x="288.75" y="654.0" font-size="10.75" textLength="7.15" lengthAdjust="spacingAndGlyphs">0</tspan><tspan x="296.18" y="654.0" font-size="10.75" textLength="6.58" lengthAdjust="spacingAndGlyphs">2</tspan></text>
<text stroke="#2e2e2e" stroke-width="0.3" fill="#2e2e2e"><tspan x="346.84" y="654.0" font-size="10.75" textLength="6.53" lengthAdjust="spacingAndGlyphs">0</tspan></text>
<text stroke="#2e2e2e" stroke-width="0.3" fill="#2e2e2e"><tspan x="400.15" y="654.0" font-size="10.75" textLength="6.98" lengthAdjust="spacingAndGlyphs">0</tspan><tspan x="407.20" y="654.0" font-size="11.5">.</tspan><tspan x="410.48" y="654.0" font-size="10.75" textLength="6.98" lengthAdjust="spacingAndGlyphs">0</tspan><tspan x="417.74" y="654.0" font-size="10.75" textLength="6.43" lengthAdjust="spacingAndGlyphs">2</tspan></text>
<text stroke="#2e2e2e" stroke-width="0.3" fill="#2e2e2e"><tspan x="461.95" y="654.0" font-size="10.75" textLength="6.96" lengthAdjust="spacingAndGlyphs">0</tspan><tspan x="468.98" y="654.0" font-size="11.5">.</tspan><tspan x="472.24" y="654.0" font-size="10.75" textLength="6.96" lengthAdjust="spacingAndGlyphs">0</tspan><tspan x="479.49" y="656.1" font-size="13.69" textLength="6.96" lengthAdjust="spacingAndGlyphs">4</tspan></text>
<text stroke="#2e2e2e" stroke-width="0.3" fill="#2e2e2e"><tspan x="203.23" y="639.8" font-size="10.75" textLength="6.24" lengthAdjust="spacingAndGlyphs">0</tspan></text>
<text stroke="#2e2e2e" stroke-width="0.3" fill="#2e2e2e"><tspan x="196.03" y="611.1" font-size="10.75" textLength="6.30" lengthAdjust="spacingAndGlyphs">2</tspan><tspan x="202.61" y="611.1" font-size="10.75" textLength="6.85" lengthAdjust="spacingAndGlyphs">0</tspan></text>
<text stroke="#2e2e2e" stroke-width="0.3" fill="#2e2e2e"><tspan x="196.04" y="584.4" font-size="13.69" textLength="6.58" lengthAdjust="spacingAndGlyphs">4</tspan><tspan x="202.89" y="582.3" font-size="10.75" textLength="6.58" lengthAdjust="spacingAndGlyphs">0</tspan></text>
<text stroke="#2e2e2e" stroke-width="0.3" fill="#2e2e2e"><tspan x="196.04" y="553.6" font-size="13.97" textLength="6.58" lengthAdjust="spacingAndGlyphs">6</tspan><tspan x="202.89" y="553.6" font-size="10.75" textLength="6.58" lengthAdjust="spacingAndGlyphs">0</tspan></text>
<text stroke="#2e2e2e" stroke-width="0.3" fill="#2e2e2e"><tspan x="196.04" y="524.9" font-size="13.97" textLength="6.58" lengthAdjust="spacingAndGlyphs">8</tspan><tspan x="202.89" y="524.9" font-size="10.75" textLength="6.58" lengthAdjust="spacingAndGlyphs">0</tspan></text>
<text stroke="#2e2e2e" stroke-width="0.3" fill="#2e2e2e"><tspan x="190.11" y="496.1" font-size="10.75" textLength="5.08" lengthAdjust="spacingAndGlyphs">1</tspan><tspan x="195.44" y="496.1" font-size="10.75" textLength="6.87" lengthAdjust="spacingAndGlyphs">0</tspan><tspan x="202.59" y="496.1" font-size="10.75" textLength="6.87" lengthAdjust="spacingAndGlyphs">0</tspan></text>
<text stroke="#2e2e2e" stroke-width="0.3" fill="#2e2e2e"><tspan x="190.11" y="467.4" font-size="10.75" textLength="5.23" lengthAdjust="spacingAndGlyphs">1</tspan><tspan x="195.59" y="467.4" font-size="10.75" textLength="6.51" lengthAdjust="spacingAndGlyphs">2</tspan><tspan x="202.38" y="467.4" font-size="10.75" textLength="7.07" lengthAdjust="spacingAndGlyphs">0</tspan></text>
<text stroke="#2e2e2e" stroke-width="0.3" fill="#2e2e2e"><tspan x="190.11" y="438.7" font-size="10.75" textLength="5.08" lengthAdjust="spacingAndGlyphs">1</tspan><tspan x="195.44" y="440.8" font-size="13.69" textLength="6.87" lengthAdjust="spacingAndGlyphs">4</tspan><tspan x="202.59" y="438.7" font-size="10.75" textLength="6.87" lengthAdjust="spacingAndGlyphs">0</tspan></text>
<text stroke="#2e2e2e" stroke-width="0.3" fill="#2e2e2e"><tspan x="190.11" y="409.9" font-size="10.75" textLength="5.08" lengthAdjust="spacingAndGlyphs">1</tspan><tspan x="195.44" y="409.9" font-size="13.97" textLength="6.87" lengthAdjust="spacingAndGlyphs">6</tspan><tspan x="202.59" y="409.9" font-size="10.75" textLength="6.87" lengthAdjust="spacingAndGlyphs">0</tspan></text>
<text stroke="#2e2e2e" stroke-width="0.3" fill="#2e2e2e"><tspan x="190.11" y="381.2" font-size="10.75" textLength="5.08" lengthAdjust="spacingAndGlyphs">1</tspan><tspan x="195.44" y="381.2" font-size="13.97" textLength="6.87" lengthAdjust="spacingAndGlyphs">8</tspan><tspan x="202.59" y="381.2" font-size="10.75" textLength="6.87" lengthAdjust="spacingAndGlyphs">0</tspan></text>
</svg></body></html>
